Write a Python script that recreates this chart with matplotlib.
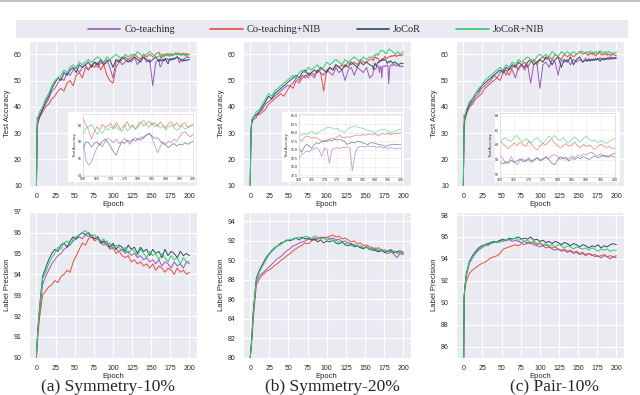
import numpy as np
import matplotlib
matplotlib.use('Agg')
import matplotlib.pyplot as plt
import seaborn as sns
from matplotlib.patches import Rectangle
from matplotlib.lines import Line2D

sns.set_style('darkgrid')
plt.rcParams['font.family'] = ['Liberation Sans', 'DejaVu Sans']

names = ['Co-teaching', 'Co-teaching+NIB', 'JoCoR', 'JoCoR+NIB']
colors = ['#9b59b6', '#e74c3c', '#34495e', '#2ecc71']
captions = ['(a) Symmetry-10%', '(b) Symmetry-20%', '(c) Pair-10%']

# epochs
ep_top = [0, 1, 2] + list(range(4, 157, 4))
ep_zoom = list(range(160, 201))
ep_bot = [0, 1, 2] + list(range(4, 201, 4))

# ---- test accuracy, Symmetry-10%
a_co = [10, 33, 35, 37, 39, 41, 43, 46, 47, 49, 51, 50, 53, 52, 54, 55, 53, 55, 56, 54, 56, 57, 55, 57, 56, 58, 55, 51, 57, 58, 56, 57, 58, 57, 59, 56, 58, 59, 57, 58, 48, 57]
a_conib = [10, 36, 35, 36, 38, 40, 41, 43, 44, 46, 47, 46, 49, 50, 48, 52, 53, 51, 55, 54, 56, 55, 57, 54, 56, 52, 50, 49, 55, 57, 58, 59, 58, 59, 60, 59, 58, 60, 59, 60, 59, 60]
a_jo = [10, 32, 34, 36, 39, 42, 44, 47, 49, 51, 50, 53, 52, 54, 55, 53, 56, 55, 56, 57, 55, 57, 56, 58, 56, 57, 58, 55, 58, 57, 59, 58, 57, 58, 59, 58, 57, 59, 58, 57, 58, 59]
a_jonib = [10, 34, 36, 38, 40, 43, 45, 48, 50, 51, 52, 54, 53, 55, 56, 55, 57, 56, 57, 58, 57, 58, 59, 58, 57, 59, 58, 59, 60, 59, 58, 60, 59, 60, 59, 61, 60, 59, 60, 61, 60, 59]
# epochs 160-200 (inset)
az_co = [58.0, 55.8, 55.2, 55.6, 56.5, 57.3, 57.8, 57.4, 58.1, 58.4, 58.2, 57.9, 58.3, 57.8, 58.0, 58.4, 58.1, 57.7, 58.2, 58.5, 58.2,
         58.6, 58.4, 58.8, 59.0, 58.5, 57.6, 56.7, 57.4, 58.0, 57.7, 58.1, 57.9, 58.3, 58.1, 58.6, 59.0, 59.2, 58.8, 58.6, 58.9]
az_conib = [60.8, 60.0, 59.4, 58.3, 59.2, 59.8, 59.4, 60.1, 59.7, 59.9, 60.2, 59.6, 60.3, 59.8, 59.2, 59.9, 60.4, 59.7, 60.0, 59.5, 60.1,
            60.4, 59.9, 60.2, 60.5, 60.0, 60.3, 59.8, 60.4, 60.0, 59.6, 60.2, 60.4, 59.9, 60.3, 59.8, 60.1, 60.3, 59.7, 59.9, 60.1]
az_jo = [57.2, 58.0, 57.9, 57.4, 57.8, 58.0, 57.6, 58.1, 58.3, 57.9, 57.4, 56.8, 56.4, 57.3, 58.0, 57.8, 58.2, 58.0, 58.3, 58.1, 58.4,
         58.2, 58.6, 58.8, 59.0, 58.7, 58.4, 58.5, 58.1, 57.8, 57.6, 57.3, 57.6, 57.8, 57.5, 57.7, 57.6, 57.9, 57.7, 57.9, 58.1]
az_jonib = [59.0, 59.6, 59.8, 60.1, 59.5, 58.9, 59.3, 59.0, 59.6, 59.4, 59.8, 59.5, 59.9, 59.4, 59.7, 60.0, 59.3, 59.6, 59.9, 59.5, 59.8,
            60.2, 60.6, 60.0, 59.7, 60.3, 59.8, 60.1, 59.6, 59.9, 59.4, 59.8, 60.0, 59.7, 59.4, 59.6, 59.9, 59.5, 59.7, 59.9, 60.0]

# ---- test accuracy, Symmetry-20%
b_co = [10, 30, 34, 35, 36, 38, 39, 41, 42, 43, 44, 45, 46, 47, 48, 48, 49, 51, 50, 52, 51, 53, 52, 51, 54, 53, 52, 54, 53, 52, 55, 53, 54, 50, 54, 55, 52, 55, 54, 53, 55, 51]
b_conib = [11, 31, 35, 36, 37, 37, 38, 39, 41, 42, 43, 44, 45, 44, 46, 48, 47, 50, 49, 51, 52, 51, 53, 52, 54, 53, 46, 54, 55, 54, 56, 55, 56, 55, 57, 56, 57, 56, 58, 57, 57, 58]
b_jo = [10, 30, 34, 36, 37, 38, 40, 42, 44, 43, 45, 46, 47, 48, 49, 50, 51, 52, 51, 53, 54, 52, 53, 54, 53, 55, 54, 53, 55, 54, 56, 55, 54, 56, 55, 57, 56, 55, 57, 56, 57, 56]
b_jonib = [10, 31, 35, 36, 38, 39, 41, 43, 45, 44, 46, 47, 48, 49, 50, 51, 52, 51, 53, 54, 53, 55, 54, 55, 56, 54, 55, 57, 56, 57, 58, 57, 56, 58, 57, 58, 59, 58, 57, 59, 58, 59]
bz_co = [52.0, 53.6, 54.0, 54.6, 54.3, 55.0, 55.3, 55.6, 54.8, 53.0, 55.4, 55.2, 51.0, 55.0, 55.4, 55.6, 55.3, 55.7, 55.5, 55.8, 55.6,
         48.8, 53.5, 55.6, 55.8, 56.0, 55.7, 56.1, 55.9, 56.0, 55.8, 55.6, 55.9, 55.5, 55.7, 55.3, 55.6, 55.4, 55.2, 55.5, 55.3]
bz_conib = [58.2, 57.5, 58.4, 59.0, 58.8, 58.3, 58.6, 58.4, 57.9, 57.6, 57.4, 57.8, 58.1, 58.4, 58.2, 58.7, 59.2, 58.6, 58.4, 58.8, 58.6,
            58.9, 59.1, 59.3, 59.0, 59.5, 59.2, 59.4, 59.6, 59.3, 59.7, 59.0, 59.4, 59.7, 59.5, 59.8, 59.4, 59.6, 59.8, 59.7, 60.0]
bz_jo = [55.5, 54.2, 55.6, 56.6, 56.0, 55.4, 56.4, 57.0, 56.8, 57.3, 57.6, 57.4, 57.9, 57.6, 58.0, 57.8, 58.1, 57.7, 57.4, 56.5, 56.9,
         57.2, 57.0, 57.5, 57.3, 57.0, 56.8, 56.5, 56.9, 57.1, 56.8, 56.6, 56.4, 56.3, 56.0, 56.2, 56.4, 56.6, 56.5, 56.4, 56.5]
bz_jonib = [58.8, 59.3, 59.6, 59.4, 60.0, 60.3, 59.9, 59.5, 60.2, 60.6, 61.0, 61.4, 61.6, 61.3, 61.0, 61.2, 60.6, 60.3, 60.1, 60.9, 61.5,
            61.7, 62.0, 61.6, 61.4, 61.2, 61.0, 60.7, 60.5, 60.2, 60.0, 60.4, 60.7, 61.0, 60.8, 60.3, 59.9, 60.2, 60.5, 60.8, 61.0]

# ---- test accuracy, Pair-10%
c_co = [10, 33, 35, 37, 40, 42, 44, 45, 47, 48, 49, 50, 52, 51, 53, 54, 52, 55, 54, 51, 55, 56, 54, 56, 49, 56, 57, 47, 56, 57, 55, 58, 57, 52, 58, 57, 58, 56, 58, 57, 58, 57]
c_conib = [10, 37, 36, 38, 40, 41, 43, 44, 45, 47, 48, 49, 50, 51, 50, 53, 54, 52, 55, 56, 54, 56, 57, 55, 57, 58, 56, 58, 59, 58, 59, 58, 60, 59, 58, 60, 59, 60, 59, 60, 61, 60]
c_jo = [10, 32, 35, 38, 41, 43, 45, 46, 48, 49, 50, 51, 52, 53, 54, 53, 55, 54, 56, 55, 57, 56, 55, 57, 58, 56, 57, 58, 57, 59, 58, 56, 58, 59, 55, 58, 57, 59, 56, 58, 59, 57]
c_jonib = [10, 34, 36, 39, 42, 43, 45, 47, 48, 50, 51, 52, 53, 54, 55, 54, 56, 55, 57, 56, 58, 57, 58, 59, 58, 57, 59, 60, 59, 60, 59, 61, 60, 59, 61, 60, 61, 60, 61, 60, 61, 61]
cz_co = [58.6, 58.2, 57.4, 57.8, 58.4, 57.6, 57.3, 57.9, 58.1, 57.7, 58.0, 57.6, 57.9, 58.2, 57.8, 58.0, 58.3, 58.1, 58.5, 58.7, 58.4,
         58.0, 58.3, 57.9, 58.2, 58.5, 58.2, 58.6, 58.4, 58.8, 58.6, 58.9, 59.0, 58.7, 58.5, 58.8, 58.4, 58.6, 58.3, 58.5, 58.3]
cz_conib = [60.6, 60.2, 59.8, 59.5, 59.9, 60.3, 59.9, 60.4, 60.1, 59.8, 60.5, 60.1, 59.6, 59.3, 59.9, 60.2, 60.0, 60.5, 60.8, 60.3, 59.9,
            59.6, 59.9, 60.2, 59.8, 60.0, 60.4, 59.9, 59.6, 60.1, 59.8, 60.0, 59.7, 59.4, 59.8, 60.1, 59.9, 59.6, 59.8, 59.5, 59.6]
cz_jo = [57.8, 57.4, 57.7, 57.5, 57.9, 57.6, 57.8, 58.1, 57.7, 57.9, 58.2, 57.8, 58.0, 58.3, 57.9, 58.1, 58.4, 58.0, 57.5, 57.3, 57.9,
         58.4, 58.1, 58.3, 57.8, 58.2, 58.0, 58.3, 58.1, 58.4, 58.2, 58.0, 58.3, 58.5, 58.2, 58.4, 58.6, 58.3, 58.5, 58.7, 58.9]
cz_jonib = [60.3, 60.8, 61.0, 60.6, 60.5, 61.1, 61.3, 60.7, 60.4, 60.9, 60.6, 60.3, 60.8, 61.0, 60.5, 60.2, 60.7, 61.2, 60.9, 61.3, 60.8,
            60.6, 61.0, 60.5, 60.3, 60.8, 61.1, 60.7, 60.4, 60.9, 61.2, 60.8, 60.5, 60.7, 60.3, 60.6, 60.4, 60.2, 60.5, 60.7, 60.9]

# ---- label precision
pa_co = [90.1, 90.8, 91.3, 92.1, 93.5, 93.9, 94.2, 94.5, 94.7, 94.9, 95.0, 95.2, 95.3, 95.4, 95.6, 95.7, 95.8, 95.7, 95.9, 95.8, 95.9, 95.7, 95.8, 95.6, 95.5, 95.6, 95.3,
         95.4, 95.2, 95.1, 95.2, 95.0, 95.1, 94.9, 95.0, 94.8, 94.9, 94.7, 94.8, 94.6, 94.7, 94.5, 94.7, 94.4, 94.6, 94.5, 94.3, 94.6, 94.4, 94.5, 94.3, 94.6, 94.5]
pa_conib = [90.0, 90.6, 91.1, 91.9, 93.0, 93.2, 93.4, 93.5, 93.7, 93.6, 93.9, 94.0, 94.2, 94.1, 94.6, 94.9, 95.2, 95.5, 95.4, 95.7, 95.8, 95.6, 95.7, 95.5, 95.4, 95.5, 95.2,
            95.3, 95.0, 95.1, 94.9, 94.8, 94.9, 94.6, 94.7, 94.5, 94.6, 94.4, 94.5, 94.3, 94.5, 94.2, 94.4, 94.3, 94.1, 94.3, 94.2, 94.0, 94.3, 94.1, 94.2, 94.0, 94.1]
pa_jo = [90.1, 90.9, 91.5, 92.4, 93.9, 94.3, 94.7, 95.0, 95.2, 95.1, 95.4, 95.5, 95.3, 95.6, 95.8, 95.7, 95.9, 96.0, 95.9, 96.0, 95.8, 95.7, 95.8, 95.5, 95.6, 95.4, 95.3,
         95.5, 95.2, 95.4, 95.3, 95.1, 95.4, 95.2, 95.3, 95.0, 95.3, 95.1, 95.2, 94.9, 95.2, 95.0, 95.1, 94.8, 95.2, 94.9, 95.1, 95.0, 94.8, 95.1, 94.9, 95.0, 94.9]
pa_jonib = [90.1, 90.8, 91.4, 92.3, 93.8, 94.1, 94.5, 94.8, 95.0, 95.3, 95.2, 95.5, 95.6, 95.4, 95.7, 95.8, 95.9, 96.0, 96.1, 95.9, 95.8, 95.9, 95.7, 95.6, 95.7, 95.4, 95.5,
            95.2, 95.4, 95.3, 95.1, 95.3, 95.0, 95.2, 95.1, 94.9, 95.2, 95.0, 94.8, 95.1, 94.9, 95.0, 94.7, 95.0, 94.8, 94.6, 94.9, 94.7, 94.8, 94.5, 94.8, 94.6, 94.6]

pb_co = [80.0, 80.9, 81.9, 84.4, 87.8, 88.4, 88.7, 89.0, 89.3, 89.6, 89.9, 90.2, 90.4, 90.7, 91.0, 91.2, 91.5, 91.6, 91.8, 91.9, 92.0, 92.2, 92.1, 92.3, 92.2, 92.4, 92.3,
         92.4, 92.2, 92.3, 92.1, 92.2, 91.9, 92.0, 91.8, 91.7, 91.6, 91.5, 91.4, 91.3, 91.4, 91.2, 91.0, 91.1, 90.9, 91.0, 90.8, 90.7, 90.9, 90.6, 90.3, 90.7, 90.6]
pb_conib = [80.0, 80.7, 81.6, 84.0, 87.5, 88.1, 88.5, 88.8, 89.0, 89.2, 89.5, 89.7, 90.0, 90.2, 90.5, 90.7, 91.0, 91.2, 91.4, 91.6, 91.8, 91.7, 92.0, 92.1, 92.2, 92.3, 92.4,
            92.3, 92.5, 92.6, 92.4, 92.5, 92.2, 92.3, 92.1, 91.9, 92.0, 91.7, 91.8, 91.5, 91.6, 91.4, 91.3, 91.2, 91.3, 91.0, 91.1, 90.9, 91.0, 90.8, 90.9, 90.7, 90.8]
pb_jo = [80.0, 81.0, 82.1, 84.8, 88.2, 89.0, 89.6, 90.2, 90.6, 91.0, 91.3, 91.5, 91.8, 91.9, 92.1, 92.0, 92.2, 92.3, 92.1, 92.4, 92.2, 92.3, 92.1, 92.2, 91.9, 92.1, 91.8,
         92.0, 91.9, 92.1, 91.8, 91.7, 91.9, 91.6, 91.5, 91.7, 91.4, 91.5, 91.3, 91.2, 91.4, 91.1, 91.2, 91.0, 90.9, 91.1, 90.8, 91.0, 91.1, 90.8, 90.9, 91.0, 90.8]
pb_jonib = [80.0, 81.0, 82.0, 84.6, 88.0, 88.8, 89.4, 89.9, 90.5, 90.9, 91.2, 91.5, 91.6, 91.9, 92.0, 92.2, 92.1, 92.3, 92.4, 92.2, 92.5, 92.4, 92.3, 92.5, 92.4, 92.2, 92.3,
            92.1, 92.2, 92.0, 92.1, 91.9, 91.8, 91.7, 91.8, 91.5, 91.6, 91.4, 91.5, 91.3, 91.4, 91.2, 91.1, 91.3, 91.0, 91.1, 90.9, 91.0, 90.8, 91.0, 90.7, 90.9, 90.7]

pc_co = [80.0, 90.5, 91.4, 92.5, 93.6, 94.1, 94.5, 94.8, 95.0, 95.2, 95.3, 95.4, 95.5, 95.6, 95.7, 95.6, 95.7, 95.8, 95.6, 95.7, 95.6, 95.5, 95.6, 95.4, 95.5, 95.3, 95.2,
         95.1, 95.2, 95.0, 95.1, 94.9, 94.8, 94.9, 94.7, 94.8, 94.6, 94.7, 94.5, 94.6, 94.4, 94.5, 94.3, 94.5, 94.4, 94.2, 94.3, 94.1, 94.3, 94.2, 94.0, 94.2, 94.1]
pc_conib = [80.0, 90.4, 91.2, 92.0, 92.7, 93.0, 93.2, 93.4, 93.6, 93.7, 93.9, 94.1, 94.2, 94.3, 94.5, 94.9, 95.0, 95.1, 95.2, 95.3, 95.2, 95.4, 95.3, 95.5, 95.4, 95.5, 95.3,
            95.4, 95.2, 95.3, 95.1, 95.0, 95.1, 94.9, 94.8, 94.9, 94.7, 94.8, 94.6, 94.7, 94.5, 94.6, 94.4, 94.5, 94.3, 94.4, 94.2, 94.3, 94.4, 94.2, 94.3, 94.2, 94.3]
pc_jo = [80.0, 90.6, 91.5, 92.7, 93.8, 94.3, 94.7, 95.0, 95.2, 95.3, 95.4, 95.5, 95.6, 95.5, 95.7, 95.8, 95.7, 95.9, 95.8, 95.9, 96.0, 95.8, 95.9, 95.8, 96.0, 95.7, 95.8,
         95.6, 95.7, 95.5, 95.6, 95.4, 95.6, 95.5, 95.3, 95.5, 95.4, 95.2, 95.4, 95.3, 95.1, 95.3, 95.2, 95.0, 95.2, 95.1, 95.3, 95.0, 95.2, 95.1, 95.3, 95.4, 95.3]
pc_jonib = [80.0, 90.6, 91.4, 92.6, 93.7, 94.2, 94.6, 94.9, 95.1, 95.3, 95.2, 95.4, 95.5, 95.6, 95.5, 95.7, 95.8, 95.7, 95.8, 95.9, 95.7, 95.8, 95.6, 95.7, 95.5, 95.6, 95.4,
            95.5, 95.3, 95.4, 95.2, 95.3, 95.1, 95.3, 95.2, 95.0, 95.2, 95.1, 94.9, 95.1, 95.0, 94.9, 95.0, 94.8, 95.0, 94.9, 94.7, 94.9, 94.8, 94.9, 94.7, 94.8, 94.8]

top_main = [[a_co, a_conib, a_jo, a_jonib], [b_co, b_conib, b_jo, b_jonib], [c_co, c_conib, c_jo, c_jonib]]
top_zoom = [[az_co, az_conib, az_jo, az_jonib], [bz_co, bz_conib, bz_jo, bz_jonib], [cz_co, cz_conib, cz_jo, cz_jonib]]
bot_all = [[pa_co, pa_conib, pa_jo, pa_jonib], [pb_co, pb_conib, pb_jo, pb_jonib], [pc_co, pc_conib, pc_jo, pc_jonib]]

bot_ylim = [(90, 97), (80, 95), (85, 98.3)]
bot_yticks = [np.arange(90, 97.1, 1), np.arange(80, 94.1, 2), np.arange(86, 98.1, 2)]
zoom_ylim = [(53.9, 61.3), (47.0, 65.5), (55.6, 64.4)]
zoom_yticks = [[54, 56, 58, 60], list(np.arange(47.5, 65.1, 2.5)), [56, 58, 60, 62, 64]]

fig = plt.figure(figsize=(6.4, 3.95), dpi=100)

lefts = [0.045, 0.379, 0.712]
ins_pos = [[0.130, 0.554, 0.172, 0.157], [0.467, 0.552, 0.159, 0.160], [0.781, 0.552, 0.180, 0.162]]
box_pos = [[0.106, 0.539, 0.200, 0.177], [0.441, 0.539, 0.189, 0.177], [0.773, 0.539, 0.195, 0.177]]

for i in range(3):
    # top row: test accuracy
    ax = fig.add_axes([lefts[i], 0.53, 0.263, 0.366])
    for col, main, zm in zip(colors, top_main[i], top_zoom[i]):
        ax.plot(ep_top + ep_zoom, main + zm, color=col, lw=0.7)
    ax.set_xlim(-10, 210)
    ax.set_ylim(10, 65)
    ax.set_xticks(range(0, 201, 25))
    ax.set_yticks(range(10, 61, 10))
    ax.tick_params(labelsize=5, pad=1.5)
    ax.set_xlabel('Epoch', fontsize=5.5, labelpad=1)
    ax.set_ylabel('Test Accuracy', fontsize=5.5, labelpad=2)

    # white box + inset with the last 40 epochs
    fig.patches.append(Rectangle(box_pos[i][:2], box_pos[i][2], box_pos[i][3], transform=fig.transFigure,
                                 facecolor='white', edgecolor='none', zorder=5))
    ins = fig.add_axes(ins_pos[i], zorder=6)
    ins.set_facecolor('white')
    for col, zm in zip(colors, top_zoom[i]):
        ins.plot(ep_zoom, zm, color=col, lw=0.6, alpha=0.6)
    ins.set_xlim(160, 200)
    ins.set_ylim(*zoom_ylim[i])
    ins.set_xticks(range(160, 201, 5))
    ins.set_yticks(zoom_yticks[i])
    if i == 1:
        ins.set_yticklabels([f'{v:.1f}' for v in zoom_yticks[i]])
    ins.grid(color='#e8e8e8', lw=0.4)
    for s in ins.spines.values():
        s.set_color('#d0d0d0')
        s.set_linewidth(0.4)
    ins.tick_params(labelsize=2.6, pad=0.8, length=0)
    ins.set_ylabel('Test Accuracy', fontsize=2.8, labelpad=1)

    # bottom row: label precision
    bx = fig.add_axes([lefts[i], 0.094, 0.263, 0.37])
    for col, vals in zip(colors, bot_all[i]):
        bx.plot(ep_bot, vals, color=col, lw=0.7)
    bx.set_xlim(-10, 210)
    bx.set_ylim(*bot_ylim[i])
    bx.set_xticks(range(0, 201, 25))
    bx.set_yticks(bot_yticks[i])
    bx.set_yticklabels([f'{v:.0f}' for v in bot_yticks[i]])
    bx.tick_params(labelsize=5, pad=1.5)
    bx.set_xlabel('Epoch', fontsize=5.5, labelpad=1)
    bx.set_ylabel('Label Precision', fontsize=5.5, labelpad=2)

# captions
for x, cap in zip([0.168, 0.519, 0.867], captions):
    fig.text(x, 0.02, cap, ha='center', va='center', family='Liberation Serif', fontsize=12.5)

# legend strip on top
fig.add_artist(Line2D([0, 1], [0.998, 0.998], transform=fig.transFigure, color='#b5b5b5', lw=1.2))
fig.patches.append(Rectangle((0.025, 0.904), 0.956, 0.045, transform=fig.transFigure,
                             facecolor='#eaeaf2', edgecolor='none', zorder=1))
handles = [Line2D([], [], color=c, lw=1.2) for c in colors]
fig.legend(handles, names, loc='center', bbox_to_anchor=(0.494, 0.925), ncol=4, frameon=False,
           prop={'family': 'Liberation Serif', 'size': 7.5}, handlelength=3.1,
           columnspacing=3.4, handletextpad=0.4)

fig.savefig('out.png', dpi=100)
